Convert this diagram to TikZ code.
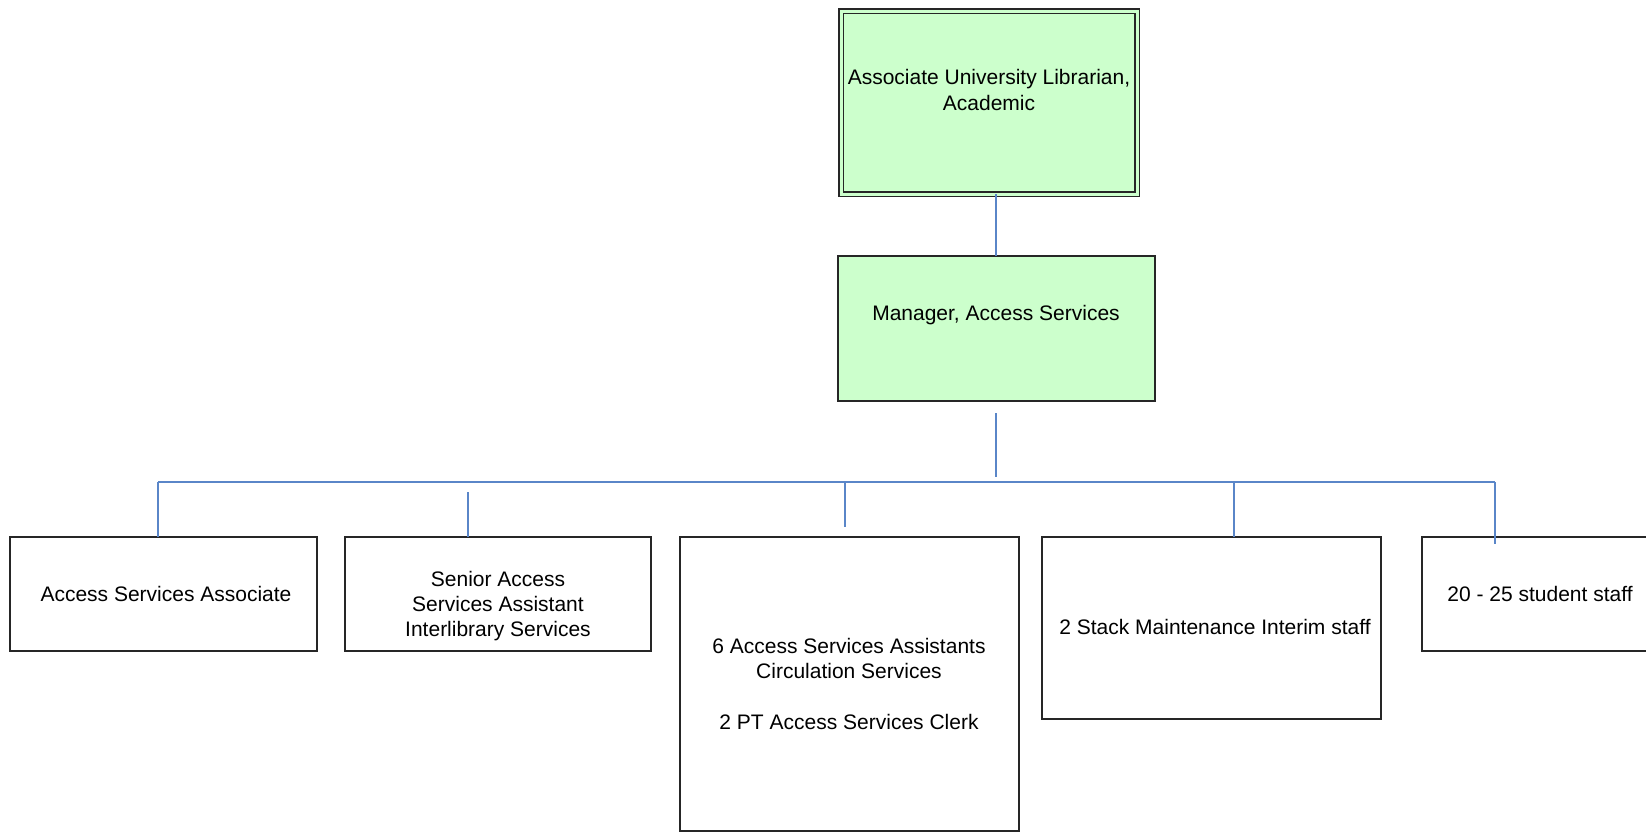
\documentclass[tikz,border=0pt]{standalone}
\usepackage{fontspec}
\setmainfont{Liberation Sans}
\begin{document}
\begin{tikzpicture}[x=0.5pt,y=-0.5pt,
  every node/.style={inner sep=0pt, outer sep=0pt},
  lbl/.style={align=center, font=\fontsize{10.5pt}{12.6pt}\selectfont, text=black},
  box/.style={draw=black!85, line width=1pt, fill=white},
  greenbox/.style={draw=black!85, line width=1pt, fill=boxgreen},
  conn/.style={draw=connblue, line width=0.8pt}]
\definecolor{boxgreen}{HTML}{CCFFCC}
\definecolor{connblue}{HTML}{5A86C8}
\useasboundingbox (0,0) rectangle (1646,832);
\clip (0,0) rectangle (1646,832);
% boxes
\node[greenbox, double=boxgreen, line width=0.75pt, double distance=1.5pt,
      minimum width=148pt, minimum height=91.5pt] (top) at (989,102.5) {};
\node[greenbox, minimum width=158.5pt, minimum height=72.5pt] (mgr) at (996.5,328.5) {};
\node[box, minimum width=153.5pt, minimum height=57pt] (b1) at (163.5,594) {};
\node[box, minimum width=153pt, minimum height=57pt] (b2) at (498,594) {};
\node[box, minimum width=169.5pt, minimum height=147pt] (b3) at (849.5,684) {};
\node[box, minimum width=169.5pt, minimum height=91pt] (b4) at (1211.5,628) {};
\node[box, minimum width=118pt, minimum height=57pt] (b5) at (1540,594) {};
% texts
\node[lbl] (ttop) at (989,90) {Associate University Librarian,\\Academic};
\node[lbl] (tmgr) at (996,315) {Manager, Access Services};
\node[lbl] (t1) at (166,594) {Access Services Associate};
\node[lbl] (t2) at (498,606) {Senior Access\\Services Assistant\\Interlibrary Services};
\node[lbl] (t3) at (849,684) {6 Access Services Assistants\\Circulation Services\\[12.6pt]2 PT Access Services Clerk};
\node[lbl] (t4) at (1215,627) {2 Stack Maintenance Interim staff};
\node[lbl] (t5) at (1540,594) {20 - 25 student staff};
% connectors
\coordinate (m0) at (996,413);
\coordinate (m1) at (996,477);
\coordinate (bl) at (158,482);
\coordinate (br) at (1495,482);
\coordinate (d2) at (468,492);
\coordinate (d3) at (845,482);
\coordinate (d3e) at (845,527);
\coordinate (d4) at (1234,482);
\coordinate (d5e) at (1495,544);
\draw[conn] (mgr.north -| m0) -- (top.south -| m0);
\draw[conn] (m0) -- (m1);
\draw[conn] (bl) -- (br);
\draw[conn] (bl) -- (bl |- b1.north);
\draw[conn] (d2) -- (d2 |- b2.north);
\draw[conn] (d3) -- (d3e);
\draw[conn] (d4) -- (d4 |- b4.north);
\draw[conn] (br) -- (d5e);
\end{tikzpicture}
\end{document}
